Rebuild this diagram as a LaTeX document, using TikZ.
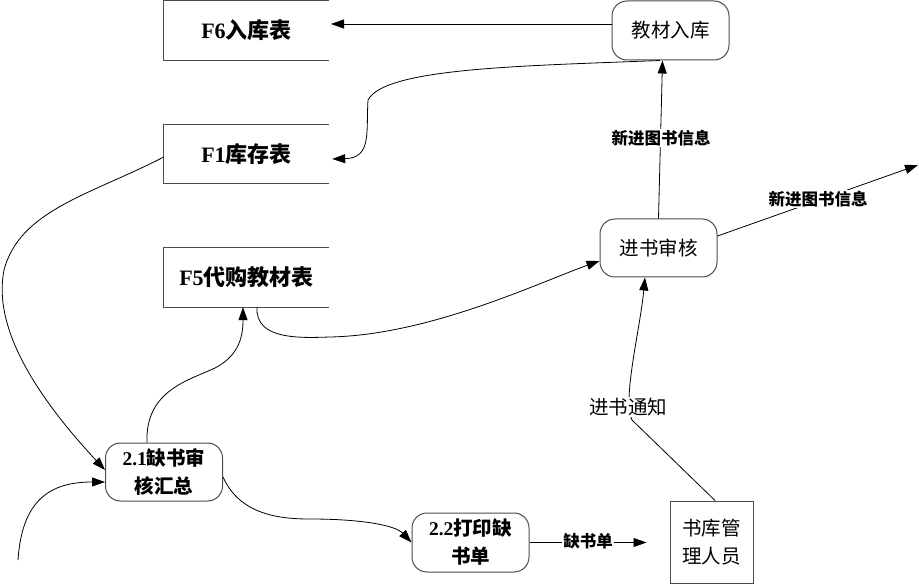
\documentclass[tikz,border=0pt]{standalone}
\usepackage{fontspec}
\setmainfont{Liberation Serif}
\newfontfamily\cjk{Noto Sans CJK SC}
\usetikzlibrary{arrows.meta}
\begin{document}
\begin{tikzpicture}[x=1pt,y=-1pt,
  store/.style={rectangle,minimum width=165pt,inner sep=0pt,font=\fontsize{22}{26}\selectfont},
  proc/.style={rectangle,rounded corners=15pt,draw=black!70,line width=1pt,minimum width=117pt,minimum height=58pt,inner sep=0pt,align=center,font=\fontsize{19.5}{28}\selectfont},
  ent/.style={rectangle,draw=black!70,line width=1pt,minimum width=83pt,minimum height=82pt,inner sep=0pt,align=center,font=\fontsize{19.5}{28}\selectfont},
  sides/.style={draw=black!70,line width=1pt},
  arr/.style={draw=black,line width=0.8pt,-{Triangle[length=13pt,width=9pt]}},
  lbl/.style={fill=white,inner sep=1pt,font=\fontsize{16.5}{20}\selectfont\bfseries},
]
\useasboundingbox (0,0) rectangle (919,585);

% data stores
\node[store,minimum height=59pt] (f6) at (246.5,30.5) {{\bfseries F6}{\cjk\bfseries 入库表}};
\node[store,minimum height=58pt] (f1) at (246.5,154) {{\bfseries F1}{\cjk\bfseries 库存表}};
\node[store,minimum height=59pt] (f5) at (246.5,277.5) {{\bfseries F5}{\cjk\bfseries 代购教材表}};
\foreach \s in {f6,f1,f5}
  \draw[sides] (\s.north east) -- (\s.north west) -- (\s.south west) -- (\s.south east);

% processes
\node[proc,minimum height=59pt] (jc) at (670.5,30.5) {\cjk 教材入库};
\node[proc] (js) at (658.5,248) {\cjk 进书审核};
\node[proc] (q21) at (164,472) {{\bfseries 2.1}{\cjk\bfseries 缺书审}\\{\cjk\bfseries 核汇总}};
\node[proc,minimum height=59pt] (q22) at (470.5,542.5) {{\bfseries 2.2}{\cjk\bfseries 打印缺}\\{\cjk\bfseries 书单}};
\node[ent] (gl) at (711.5,542) {\cjk 书库管\\\cjk 理人员};

\coordinate (out) at (918,165);
\coordinate (in) at (18,560);

% connectors
\draw[arr] ([yshift=6.5pt]jc.west) -- ([yshift=6.5pt]f6.east -| 331,0);
\draw[arr] ([xshift=-10.5pt]jc.south) .. controls (520,66) and (385,68) .. (368,100)
   .. controls (366,132) and (372,158) .. ([xshift=3pt,yshift=-5pt]f1.east);
\draw[arr] (js.north) -- ([xshift=-8pt]jc.south);
\draw[arr] (js.east |- 0,236) -- (out);
\draw[arr] ([xshift=10.5pt]f5.south) .. controls (255,340) and (300,338) .. (330,337)
   .. controls (430,335) and (540,282) .. ([yshift=-13pt]js.west);
\draw[arr] ([xshift=-17pt]q21.north) .. controls (145,390) and (190,380) .. (215,368)
   .. controls (240,355) and (243,335) .. ([xshift=-3.5pt]f5.south);
\draw[arr] ([yshift=-3pt]f1.west) .. controls (90,195) and (20,210) .. (4,270)
   .. controls (-8,330) and (40,400) .. ([yshift=2pt]q21.west);
\draw[arr] (in) .. controls (22,500) and (50,482) .. ([yshift=-10pt]q21.west);
\draw[arr] ([yshift=-5pt]q21.east) .. controls (240,515) and (280,519) .. (310,519)
   .. controls (360,519) and (395,525) .. (q22.west);
\draw[arr,shorten >=23pt] (q22.east) -- (q22.east -| gl.west);
\draw[arr] ([xshift=3.5pt]gl.north) -- (632,420) .. controls (622,400) and (640,330) .. ([xshift=-13.5pt]js.south);

% labels
\node[lbl] (l1) at (661,138) {\cjk\bfseries 新进图书信息};
\node[lbl] (l2) at (818,199) {\cjk\bfseries 新进图书信息};
\node[lbl] (l3) at (588,541) {\cjk\bfseries 缺书单};
\node[lbl,font=\fontsize{19.5}{24}\selectfont] (l4) at (628,407) {\cjk 进书通知};
\end{tikzpicture}
\end{document}
